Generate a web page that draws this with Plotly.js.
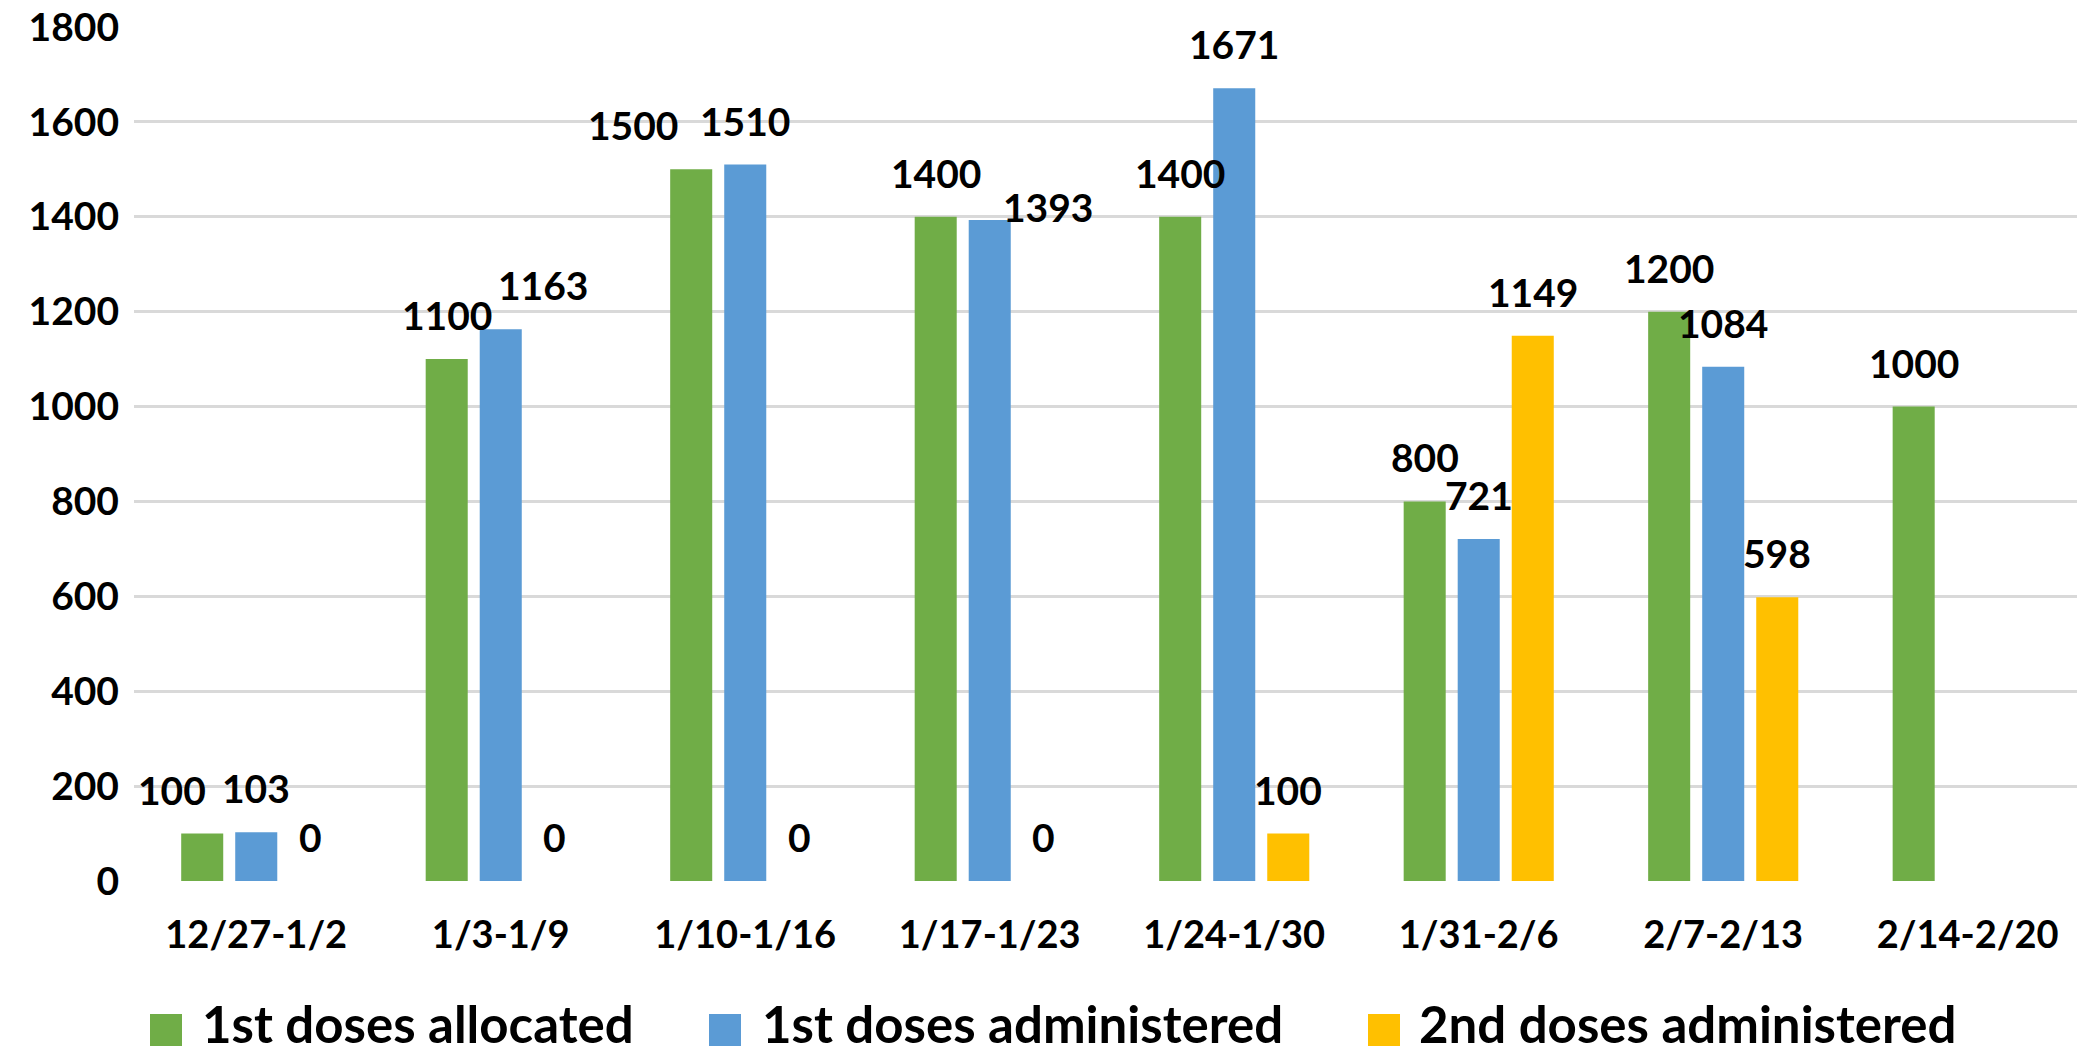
<!DOCTYPE html>
<html>
<head>
<meta charset="utf-8">
<script src="https://cdn.plot.ly/plotly-3.0.1.min.js"></script>
<style>
  html, body { margin: 0; padding: 0; background: #ffffff; }
  #chart { width: 2077px; height: 1058px; }
</style>
</head>
<body>
<div id="chart"></div>
<script>
// ---- data ----
const categories = ['12/27-1/2', '1/3-1/9', '1/10-1/16', '1/17-1/23', '1/24-1/30', '1/31-2/6', '2/7-2/13', '2/14-2/20'];
const firstAllocated = [100, 1100, 1500, 1400, 1400, 800, 1200, 1000];
const firstAdministered = [103, 1163, 1510, 1393, 1671, 721, 1084, null];
const secondAdministered = [0, 0, 0, 0, 100, 1149, 598, null];
const seriesNames = ['1st doses allocated', '1st doses administered', '2nd doses administered'];
const yTicks = [0, 200, 400, 600, 800, 1000, 1200, 1400, 1600, 1800];

// ---- style ----
const colors = ['#70AD47', '#5B9BD5', '#FFC000'];
const FONT = 'Lato, "Open Sans", sans-serif';
const W = 2077, H = 1058;
const M = { l: 134, r: 0, t: 27, b: 177 };
const BARGAP = 0.337, BARGROUPGAP = 0.222;
const XRANGE = [-0.5, 7.447];
// manual label nudges (pixels) as in the original chart: key "series-category"
const labelNudge = { '0-0': [-30, 0], '1-1': [42, 0], '0-2': [-58, 0], '1-3': [58, -31] };

const seriesValues = [firstAllocated, firstAdministered, secondAdministered];

const traces = seriesValues.map((vals, s) => ({
  type: 'bar',
  name: seriesNames[s],
  x: categories,
  y: vals,
  marker: { color: colors[s], line: { width: 0 } },
  hoverinfo: 'x+y+name'
}));

const plotW = W - M.l - M.r;
const plotH = H - M.t - M.b;
const ppu = plotW / (XRANGE[1] - XRANGE[0]);
const slotPx = ppu * (1 - BARGAP) / seriesValues.length;

const annotations = [];
seriesValues.forEach((vals, s) => {
  vals.forEach((v, i) => {
    if (v === null || v === undefined) return;
    const n = labelNudge[s + '-' + i] || [0, 0];
    annotations.push({
      xref: 'x', yref: 'y', x: categories[i], y: v,
      text: String(v), showarrow: false,
      xanchor: 'center', yanchor: 'bottom',
      xshift: (s - 1) * slotPx + n[0], yshift: 19 + n[1],
      font: { family: FONT, size: 39, color: '#000000', weight: 'bold' }
    });
  });
});

// custom legend (large square swatches)
const px2x = px => (px - M.l) / plotW;
const px2y = py => (H - M.b - py) / plotH;
const legendSquareX = [150, 709, 1368];
const legendTextX = [200, 760, 1417];
const legendTextBottom = 1056, SQ = 32, SQ_CY = 1030;
const shapes = [];
seriesNames.forEach((nm, s) => {
  shapes.push({
    type: 'rect', xref: 'paper', yref: 'paper',
    x0: px2x(legendSquareX[s]), x1: px2x(legendSquareX[s] + SQ),
    y0: px2y(SQ_CY + SQ / 2), y1: px2y(SQ_CY - SQ / 2),
    fillcolor: colors[s], line: { width: 0 }
  });
  annotations.push({
    xref: 'paper', yref: 'paper', x: px2x(legendTextX[s]), y: px2y(legendTextBottom),
    text: nm, showarrow: false, xanchor: 'left', yanchor: 'bottom',
    font: { family: FONT, size: 51, color: '#000000', weight: 'bold' }
  });
});

const layout = {
  width: W, height: H,
  margin: M,
  paper_bgcolor: '#ffffff', plot_bgcolor: '#ffffff',
  barmode: 'group', bargap: BARGAP, bargroupgap: BARGROUPGAP,
  showlegend: false,
  font: { family: FONT, size: 38, color: '#000000', weight: 'bold' },
  xaxis: {
    type: 'category', range: XRANGE, showgrid: false, zeroline: false, showline: false,
    ticks: '', ticklabelstandoff: 28,
    tickfont: { family: FONT, size: 38, color: '#000000', weight: 'bold' }
  },
  yaxis: {
    range: [0, 1800], tickvals: yTicks, ticktext: yTicks.map(String),
    showgrid: true, gridcolor: '#D9D9D9', gridwidth: 3,
    zeroline: false, showline: false, ticks: '', ticklabelstandoff: 14,
    tickfont: { family: FONT, size: 39, color: '#000000', weight: 'bold' }
  },
  shapes: shapes,
  annotations: annotations
};

Plotly.newPlot('chart', traces, layout, { displayModeBar: false, staticPlot: true });
</script>
</body>
</html>
